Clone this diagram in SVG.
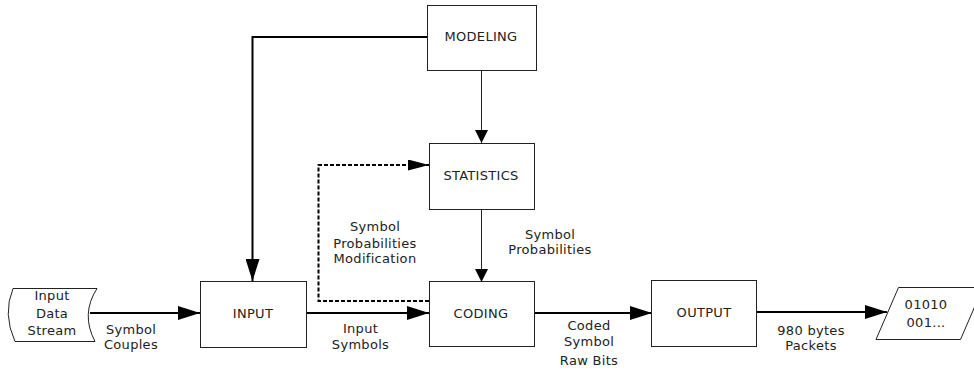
<svg xmlns="http://www.w3.org/2000/svg" width="974" height="372" viewBox="0 0 974 372">
<defs>
<style>
.box{fill:#fff;stroke:#222;stroke-width:1}
.t{font-family:"DejaVu Sans","Verdana",sans-serif;font-size:13px;fill:#222;text-anchor:middle;letter-spacing:0.3px}
.thick{fill:none;stroke:#000;stroke-width:2}
.thin{fill:none;stroke:#222;stroke-width:1}
.dash{fill:none;stroke:#000;stroke-width:2;stroke-dasharray:4 2}
</style>
<marker id="big" markerUnits="userSpaceOnUse" markerWidth="22" markerHeight="14" refX="22" refY="7" orient="auto">
<path d="M0,0 L22,7 L0,14 Z" fill="#000"/>
</marker>
<marker id="mid" markerUnits="userSpaceOnUse" markerWidth="21" markerHeight="11" refX="21" refY="5.5" orient="auto">
<path d="M0,0 L21,5.5 L0,11 Z" fill="#000"/>
</marker>
<marker id="small" markerUnits="userSpaceOnUse" markerWidth="13" markerHeight="13" refX="13" refY="6.5" orient="auto">
<path d="M0,0 L13,6.5 L0,13 Z" fill="#000"/>
</marker>
</defs>
<rect width="974" height="372" fill="#fff"/>

<g id="connectors">
<path class="thick" d="M427,37 H252.5 V281" marker-end="url(#big)"/>
<path class="thin" d="M481.5,70 V143" marker-end="url(#small)"/>
<path class="thin" d="M481.5,209.5 V282" marker-end="url(#small)"/>
<path class="thick" d="M90,313 H200" marker-end="url(#big)"/>
<path class="thick" d="M306,313 H429" marker-end="url(#big)"/>
<path class="thick" d="M535,313 H652" marker-end="url(#big)"/>
<path class="thick" d="M757,312 H887" marker-end="url(#big)"/>
<path class="dash" d="M429,301 H318.5 V165 H429" marker-end="url(#mid)"/>
<text class="t" x="131" y="334">Symbol</text>
<text class="t" x="131" y="349">Couples</text>
<text class="t" x="360.5" y="333">Input</text>
<text class="t" x="360.5" y="348.5">Symbols</text>
<text class="t" x="375" y="231">Symbol</text>
<text class="t" x="375" y="247.5">Probabilities</text>
<text class="t" x="375" y="262.5">Modification</text>
<text class="t" x="550" y="238.5">Symbol</text>
<text class="t" x="550" y="253.5">Probabilities</text>
<text class="t" x="589" y="329.5">Coded</text>
<text class="t" x="589" y="346">Symbol</text>
<text class="t" x="589" y="364.5">Raw Bits</text>
<text class="t" x="811" y="334.5">980 bytes</text>
<text class="t" x="811" y="350">Packets</text>
</g>

<g id="input-data-stream">
<path class="box" d="M13,288.5 L97,288.5 Q80.5,314 95,341.5 L15,341.5 Q2.5,314 13,288.5 Z"/>
<text class="t" x="52" y="299.5">Input</text>
<text class="t" x="52" y="317.5">Data</text>
<text class="t" x="52" y="334.5">Stream</text>
</g>

<g id="modeling">
<rect class="box" x="427.5" y="5.5" width="109" height="65"/>
<text class="t" x="481" y="40.5">MODELING</text>
</g>

<g id="statistics">
<rect class="box" x="429.5" y="143.5" width="105" height="66"/>
<text class="t" x="481" y="179.5">STATISTICS</text>
</g>

<g id="input">
<rect class="box" x="200.5" y="281.5" width="106" height="66"/>
<text class="t" x="253" y="317.5">INPUT</text>
</g>

<g id="coding">
<rect class="box" x="429.5" y="281.5" width="105" height="65"/>
<text class="t" x="481" y="317.5">CODING</text>
</g>

<g id="output">
<rect class="box" x="651.5" y="280.5" width="105" height="66"/>
<text class="t" x="704" y="316.5">OUTPUT</text>
</g>

<g id="output-data">
<path class="box" d="M898.5,287.5 L983,287.5 L960.5,339.5 L876,339.5 Z"/>
<text class="t" x="926" y="309">01010</text>
<text class="t" x="926" y="326.5">001...</text>
</g>
</svg>
